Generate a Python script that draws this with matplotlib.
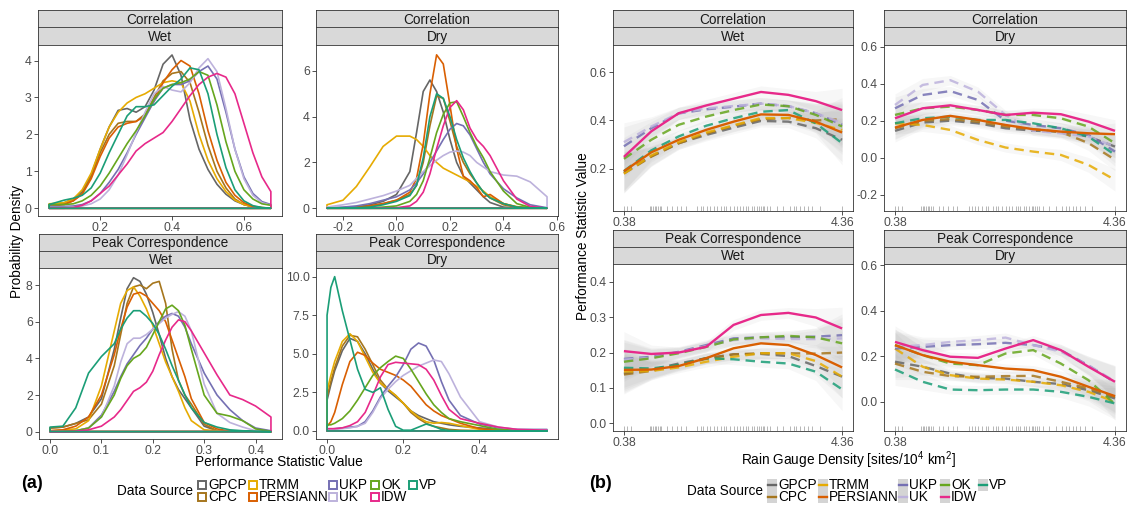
import numpy as np
import matplotlib
matplotlib.use("Agg")
import matplotlib.pyplot as plt
from matplotlib.patches import Rectangle
from matplotlib.lines import Line2D

plt.rcParams['font.family'] = ['Liberation Sans', 'DejaVu Sans']
plt.rcParams['mathtext.fontset'] = 'custom'
plt.rcParams['mathtext.rm'] = 'Liberation Sans'
plt.rcParams['mathtext.it'] = 'Liberation Sans:italic'

# ---------------- data ----------------
SOURCES = ["GPCP", "CPC", "TRMM", "PERSIANN", "UKP", "UK", "OK", "IDW", "VP"]
COLORS = ["#666666", "#A6761D", "#E6AB02", "#D95F02", "#7570B3", "#BDB2DC",
          "#66A61E", "#E7298A", "#1B9E77"]
SOLID = ["PERSIANN", "IDW"]

# (a) density curves
COR_WET_X = [0.058, 0.1, 0.125, 0.15, 0.175, 0.2, 0.225, 0.25, 0.275, 0.3, 0.325, 0.35, 0.375,
             0.4, 0.425, 0.45, 0.475, 0.5, 0.525, 0.55, 0.575, 0.6, 0.625, 0.65, 0.675]
COR_WET = {
    "GPCP": [0.08, 0.15, 0.25, 0.45, 0.9, 1.6, 2.2, 2.65, 2.7, 2.6, 2.75, 3.2, 3.9, 4.15, 3.6, 2.4, 1.6, 1.05, 0.65, 0.38, 0.2, 0.1, 0.04, 0.01, 0.0],
    "CPC": [0.1, 0.12, 0.2, 0.4, 0.85, 1.5, 2.0, 2.3, 2.35, 2.35, 2.55, 3.0, 3.45, 3.65, 3.7, 3.4, 2.6, 1.7, 1.0, 0.55, 0.25, 0.1, 0.04, 0.01, 0.0],
    "TRMM": [0.12, 0.15, 0.25, 0.5, 0.95, 1.6, 2.2, 2.6, 2.85, 3.0, 3.1, 3.25, 3.4, 3.45, 3.4, 2.9, 2.0, 1.3, 0.8, 0.45, 0.22, 0.1, 0.04, 0.01, 0.0],
    "PERSIANN": [0.05, 0.1, 0.2, 0.38, 0.8, 1.4, 1.9, 2.2, 2.3, 2.35, 2.5, 2.9, 3.4, 3.75, 4.0, 3.85, 3.1, 2.1, 1.3, 0.7, 0.35, 0.15, 0.05, 0.02, 0.0],
    "UKP": [0.05, 0.05, 0.06, 0.1, 0.2, 0.4, 0.7, 1.05, 1.5, 2.0, 2.45, 2.9, 3.25, 3.35, 3.35, 3.45, 3.7, 3.85, 3.5, 2.6, 1.6, 0.85, 0.4, 0.18, 0.1],
    "UK": [0.02, 0.02, 0.03, 0.06, 0.12, 0.25, 0.5, 0.9, 1.45, 2.05, 2.6, 3.1, 3.3, 3.2, 3.15, 3.4, 3.8, 4.05, 3.7, 2.7, 1.6, 0.8, 0.35, 0.15, 0.08],
    "OK": [0.1, 0.1, 0.12, 0.2, 0.35, 0.6, 0.95, 1.35, 1.75, 2.1, 2.5, 2.95, 3.25, 3.35, 3.4, 3.5, 3.7, 3.6, 2.8, 1.8, 1.0, 0.5, 0.25, 0.12, 0.08],
    "IDW": [0.0, 0.0, 0.02, 0.08, 0.2, 0.4, 0.6, 0.9, 1.2, 1.55, 1.75, 1.9, 2.05, 2.35, 2.7, 3.05, 3.35, 3.55, 3.65, 3.55, 3.1, 2.3, 1.5, 0.85, 0.45],
    "VP": [0.1, 0.22, 0.27, 0.35, 0.55, 0.95, 1.5, 2.0, 2.5, 2.75, 2.75, 2.8, 3.05, 3.3, 3.5, 3.8, 3.75, 3.1, 2.0, 1.1, 0.5, 0.2, 0.07, 0.02, 0.0],
}

COR_DRY_X = [-0.26, -0.2, -0.15, -0.1, -0.05, 0.0, 0.05, 0.075, 0.1, 0.125, 0.15, 0.175, 0.2,
             0.225, 0.25, 0.275, 0.3, 0.325, 0.35, 0.4, 0.45, 0.5, 0.563]
COR_DRY = {
    "GPCP": [0.0, 0.02, 0.05, 0.15, 0.3, 0.6, 1.6, 3.3, 5.1, 5.6, 5.1, 4.2, 3.0, 2.0, 1.4, 1.1, 0.8, 0.5, 0.25, 0.05, 0.01, 0.0, 0.0],
    "CPC": [0.0, 0.01, 0.03, 0.1, 0.2, 0.35, 0.6, 1.0, 2.0, 3.6, 4.9, 4.8, 3.8, 2.7, 2.0, 1.5, 1.1, 0.7, 0.45, 0.15, 0.04, 0.01, 0.0],
    "TRMM": [0.15, 0.35, 0.95, 1.8, 2.7, 3.15, 3.15, 3.0, 2.7, 2.3, 2.0, 1.75, 1.6, 1.45, 1.3, 1.15, 0.95, 0.75, 0.5, 0.2, 0.07, 0.03, 0.0],
    "PERSIANN": [0.0, 0.02, 0.05, 0.1, 0.2, 0.35, 0.7, 1.3, 2.8, 5.0, 6.7, 6.3, 4.5, 2.6, 1.4, 1.2, 0.9, 0.5, 0.6, 0.2, 0.05, 0.01, 0.0],
    "UKP": [0.02, 0.05, 0.1, 0.2, 0.35, 0.5, 0.8, 1.1, 1.5, 2.0, 2.5, 3.0, 3.45, 3.7, 3.6, 3.2, 2.6, 2.0, 1.5, 0.85, 0.45, 0.15, 0.02],
    "UK": [0.05, 0.15, 0.25, 0.4, 0.55, 0.75, 1.0, 1.3, 1.6, 1.85, 2.1, 2.3, 2.45, 2.5, 2.45, 2.3, 2.0, 1.8, 1.6, 1.45, 1.4, 1.15, 0.5],
    "OK": [0.0, 0.0, 0.01, 0.02, 0.05, 0.1, 0.3, 0.6, 1.2, 2.2, 3.3, 4.1, 4.6, 4.65, 4.0, 3.3, 2.7, 2.2, 1.6, 0.75, 0.2, 0.04, 0.0],
    "IDW": [0.0, 0.0, 0.0, 0.0, 0.01, 0.02, 0.1, 0.3, 0.7, 1.5, 2.6, 3.6, 4.4, 4.7, 4.3, 3.5, 3.0, 2.7, 2.3, 1.2, 0.4, 0.08, 0.0],
    "VP": [0.0, 0.01, 0.02, 0.05, 0.15, 0.3, 0.55, 1.0, 2.2, 4.0, 5.0, 4.8, 4.0, 3.0, 2.2, 1.6, 1.1, 0.7, 0.45, 0.2, 0.05, 0.01, 0.0],
}

PK_WET_X = [0.0, 0.025, 0.05, 0.075, 0.1, 0.125, 0.1375, 0.15, 0.1625, 0.175, 0.1875, 0.2,
            0.2125, 0.225, 0.2375, 0.25, 0.2625, 0.275, 0.3, 0.325, 0.35, 0.375, 0.4, 0.43]
PK_WET = {
    "GPCP": [0.2, 0.25, 0.45, 0.8, 1.8, 4.5, 6.2, 7.8, 8.4, 8.2, 7.5, 6.5, 5.3, 4.0, 3.0, 2.3, 1.8, 1.3, 0.3, 0.05, 0.01, 0.0, 0.0, 0.0],
    "CPC": [0.2, 0.25, 0.45, 0.65, 1.5, 3.6, 5.3, 7.0, 7.9, 8.0, 7.8, 8.1, 8.2, 7.0, 4.5, 2.8, 2.0, 1.5, 0.4, 0.05, 0.0, 0.0, 0.0, 0.0],
    "TRMM": [0.05, 0.1, 0.15, 0.6, 2.5, 5.5, 7.0, 7.7, 7.9, 7.4, 6.7, 5.8, 4.8, 3.8, 3.0, 2.2, 1.3, 0.6, 0.1, 0.05, 0.01, 0.0, 0.0, 0.0],
    "PERSIANN": [0.05, 0.1, 0.3, 0.8, 2.0, 4.2, 5.6, 6.8, 7.5, 7.6, 7.4, 7.0, 6.6, 6.0, 5.0, 4.0, 3.0, 1.8, 0.5, 0.15, 0.03, 0.0, 0.0, 0.0],
    "UKP": [0.0, 0.01, 0.05, 0.2, 0.9, 2.2, 3.0, 3.7, 4.2, 4.7, 5.1, 5.6, 6.0, 6.3, 6.45, 6.3, 5.7, 4.8, 3.2, 2.0, 1.2, 0.6, 0.2, 0.05],
    "UK": [0.0, 0.01, 0.05, 0.2, 0.8, 2.5, 3.8, 4.8, 5.1, 5.1, 5.3, 5.6, 5.9, 6.2, 6.4, 6.55, 6.3, 5.5, 2.6, 1.0, 0.5, 0.25, 0.05, 0.0],
    "OK": [0.0, 0.02, 0.05, 0.2, 0.8, 2.0, 2.9, 3.6, 4.0, 4.2, 4.6, 5.3, 6.0, 6.7, 6.9, 6.6, 5.8, 4.5, 2.0, 1.0, 0.85, 0.6, 0.15, 0.02],
    "IDW": [0.0, 0.0, 0.02, 0.1, 0.3, 0.8, 1.2, 1.7, 2.2, 2.4, 2.7, 3.3, 4.2, 5.0, 5.7, 6.1, 6.0, 5.5, 4.3, 3.1, 2.0, 1.75, 1.4, 0.8],
    "VP": [0.25, 0.3, 1.3, 3.2, 4.1, 4.8, 5.6, 6.2, 6.6, 6.6, 6.3, 5.9, 5.3, 4.5, 3.6, 2.8, 2.0, 1.3, 0.5, 0.25, 0.1, 0.05, 0.02, 0.0],
}

PK_DRY_X = [0.0, 0.01, 0.02, 0.04, 0.06, 0.08, 0.1, 0.12, 0.14, 0.16, 0.18, 0.2, 0.22, 0.24,
            0.26, 0.28, 0.3, 0.32, 0.35, 0.4, 0.45, 0.5, 0.577]
PK_DRY = {
    "GPCP": [2.0, 3.0, 3.9, 5.2, 6.0, 5.8, 5.0, 4.0, 3.1, 2.6, 2.2, 1.8, 1.3, 1.0, 0.8, 0.6, 0.5, 0.4, 0.3, 0.2, 0.1, 0.05, 0.05],
    "CPC": [2.2, 3.2, 4.1, 5.5, 6.2, 6.1, 5.3, 4.3, 3.3, 2.7, 2.3, 1.8, 1.2, 0.8, 0.5, 0.3, 0.2, 0.1, 0.05, 0.02, 0.0, 0.0, 0.0],
    "TRMM": [2.6, 3.6, 4.5, 5.8, 6.3, 5.8, 4.8, 3.8, 3.1, 2.7, 2.3, 1.8, 1.3, 0.9, 0.6, 0.5, 0.55, 0.5, 0.35, 0.1, 0.03, 0.0, 0.0],
    "PERSIANN": [0.3, 0.6, 1.2, 3.0, 4.5, 5.1, 4.9, 4.4, 4.0, 3.8, 3.6, 3.3, 2.9, 2.3, 1.7, 1.3, 1.0, 0.8, 0.5, 0.15, 0.03, 0.0, 0.0],
    "UKP": [0.1, 0.12, 0.15, 0.2, 0.25, 0.3, 0.6, 1.3, 2.2, 2.9, 3.5, 4.3, 5.3, 5.7, 5.5, 4.6, 3.2, 2.0, 1.0, 0.45, 0.2, 0.1, 0.1],
    "UK": [0.1, 0.1, 0.1, 0.15, 0.2, 0.3, 0.5, 1.2, 2.1, 2.7, 3.2, 3.6, 3.9, 4.2, 4.4, 4.6, 4.5, 3.7, 2.2, 0.6, 0.25, 0.1, 0.05],
    "OK": [0.4, 0.4, 0.5, 0.8, 1.3, 2.0, 2.8, 3.6, 4.1, 4.5, 4.85, 4.7, 4.0, 3.2, 2.4, 1.7, 1.2, 0.8, 0.6, 0.35, 0.1, 0.02, 0.0],
    "IDW": [0.15, 0.15, 0.15, 0.2, 0.35, 0.6, 1.2, 2.3, 3.5, 4.3, 4.45, 4.4, 4.35, 4.3, 4.0, 3.3, 2.3, 1.4, 0.8, 0.5, 0.25, 0.1, 0.05],
    "VP": [7.5, 9.3, 10.0, 7.8, 5.9, 4.0, 2.7, 2.5, 2.8, 1.4, 0.3, 0.05, 0.05, 0.25, 0.45, 0.3, 0.1, 0.03, 0.0, 0.0, 0.0, 0.0, 0.0],
}

# (b) smoothed performance vs rain gauge density
GAUGE_X = [0.38, 0.88, 1.38, 1.88, 2.38, 2.88, 3.38, 3.88, 4.36]
SM_COR_WET = {
    "GPCP": [0.184, 0.252, 0.306, 0.34, 0.37, 0.398, 0.395, 0.368, 0.32],
    "CPC": [0.18, 0.25, 0.305, 0.345, 0.378, 0.405, 0.41, 0.40, 0.405],
    "TRMM": [0.18, 0.255, 0.31, 0.35, 0.38, 0.41, 0.41, 0.39, 0.36],
    "PERSIANN": [0.19, 0.268, 0.32, 0.361, 0.395, 0.425, 0.423, 0.395, 0.35],
    "UKP": [0.293, 0.368, 0.429, 0.446, 0.457, 0.47, 0.459, 0.43, 0.382],
    "UK": [0.31, 0.375, 0.43, 0.45, 0.46, 0.47, 0.46, 0.43, 0.39],
    "OK": [0.241, 0.32, 0.382, 0.416, 0.443, 0.466, 0.459, 0.423, 0.375],
    "IDW": [0.249, 0.355, 0.43, 0.462, 0.49, 0.518, 0.506, 0.48, 0.443],
    "VP": [0.19, 0.276, 0.334, 0.378, 0.409, 0.436, 0.443, 0.388, 0.306],
}
SE_COR_WET = [0.08, 0.04, 0.025, 0.025, 0.025, 0.025, 0.025, 0.04, 0.09]

SM_COR_DRY = {
    "GPCP": [0.146, 0.191, 0.201, 0.187, 0.16, 0.147, 0.142, 0.115, 0.061],
    "CPC": [0.16, 0.2, 0.21, 0.195, 0.17, 0.155, 0.14, 0.08, -0.01],
    "TRMM": [0.187, 0.178, 0.151, 0.097, 0.056, 0.034, 0.016, -0.038, -0.119],
    "PERSIANN": [0.164, 0.205, 0.227, 0.205, 0.178, 0.155, 0.142, 0.133, 0.128],
    "UKP": [0.268, 0.34, 0.361, 0.313, 0.201, 0.178, 0.16, 0.124, 0.034],
    "UK": [0.286, 0.394, 0.42, 0.358, 0.232, 0.146, 0.133, 0.115, 0.061],
    "OK": [0.232, 0.268, 0.277, 0.259, 0.232, 0.232, 0.214, 0.169, 0.079],
    "IDW": [0.214, 0.268, 0.284, 0.259, 0.232, 0.244, 0.236, 0.196, 0.146],
    "VP": [0.187, 0.214, 0.223, 0.205, 0.205, 0.187, 0.16, 0.115, 0.016],
}
SE_COR_DRY = [0.06, 0.035, 0.025, 0.025, 0.025, 0.025, 0.03, 0.04, 0.06]

SM_PK_WET = {
    "GPCP": [0.141, 0.151, 0.169, 0.184, 0.195, 0.196, 0.19, 0.162, 0.132],
    "CPC": [0.138, 0.148, 0.165, 0.182, 0.195, 0.198, 0.198, 0.197, 0.2],
    "TRMM": [0.146, 0.148, 0.158, 0.174, 0.188, 0.198, 0.198, 0.176, 0.132],
    "PERSIANN": [0.151, 0.152, 0.162, 0.184, 0.212, 0.226, 0.221, 0.193, 0.158],
    "UKP": [0.182, 0.188, 0.202, 0.221, 0.24, 0.243, 0.243, 0.245, 0.249],
    "UK": [0.18, 0.185, 0.2, 0.218, 0.235, 0.24, 0.238, 0.238, 0.24],
    "OK": [0.174, 0.184, 0.198, 0.216, 0.237, 0.243, 0.247, 0.243, 0.226],
    "IDW": [0.204, 0.196, 0.2, 0.216, 0.278, 0.306, 0.312, 0.299, 0.268],
    "VP": [0.157, 0.155, 0.165, 0.184, 0.181, 0.174, 0.169, 0.146, 0.096],
}
SE_PK_WET = [0.055, 0.025, 0.015, 0.015, 0.015, 0.015, 0.015, 0.025, 0.06]

SM_PK_DRY = {
    "GPCP": [0.176, 0.154, 0.124, 0.105, 0.102, 0.088, 0.078, 0.051, 0.015],
    "CPC": [0.168, 0.132, 0.113, 0.11, 0.113, 0.114, 0.088, 0.059, 0.022],
    "TRMM": [0.234, 0.154, 0.117, 0.102, 0.098, 0.088, 0.073, 0.044, 0.0],
    "PERSIANN": [0.249, 0.205, 0.176, 0.161, 0.146, 0.139, 0.11, 0.066, 0.025],
    "UKP": [0.234, 0.241, 0.249, 0.253, 0.259, 0.249, 0.227, 0.16, 0.085],
    "UK": [0.241, 0.249, 0.263, 0.271, 0.282, 0.249, 0.22, 0.16, 0.09],
    "OK": [0.249, 0.205, 0.168, 0.161, 0.212, 0.227, 0.168, 0.095, -0.01],
    "IDW": [0.263, 0.227, 0.198, 0.193, 0.234, 0.271, 0.227, 0.154, 0.088],
    "VP": [0.142, 0.088, 0.054, 0.051, 0.054, 0.054, 0.044, 0.022, -0.007],
}
SE_PK_DRY = [0.07, 0.035, 0.02, 0.02, 0.02, 0.02, 0.025, 0.04, 0.07]

RUG = [0.38, 0.44, 0.51, 0.85, 0.88, 0.91, 0.94, 0.97, 1.00, 1.03, 1.06, 1.17, 1.25, 1.34,
       1.43, 1.51, 1.72, 1.78, 1.83, 1.89, 1.95, 2.02, 2.07, 2.16, 2.21, 2.25, 2.32, 2.39,
       2.44, 2.50, 2.56, 2.60, 2.65, 2.71, 2.75, 2.80, 2.85, 2.88, 2.91, 2.94, 2.99, 3.05,
       3.17, 3.29, 3.41, 3.48, 3.52, 3.60, 3.66, 3.73, 3.82, 3.95, 4.36]

# ---------------- layout ----------------
W, H = 1130, 505
fig = plt.figure(figsize=(W / 100, H / 100), dpi=100)
fig.patch.set_facecolor("white")

EDGE = "#333333"
TICKC = "#4D4D4D"
STRIPC = "#D9D9D9"
FS_TICK = 8.8
FS_STRIP = 9.8
FS_TITLE = 9.8


def px_axes(x0, y0, x1, y1):
    return fig.add_axes([x0 / W, 1 - y1 / H, (x1 - x0) / W, (y1 - y0) / H])


def strip(x0, x1, ytop, ymid, ybot, t1, t2):
    for (a, b, t) in [(ytop, ymid, t1), (ymid, ybot, t2)]:
        s = px_axes(x0, a, x1, b)
        s.set_facecolor(STRIPC)
        s.set_xticks([]); s.set_yticks([])
        for sp in s.spines.values():
            sp.set_color(EDGE); sp.set_linewidth(0.6)
        s.text(0.5, 0.45, t, ha="center", va="center", fontsize=FS_STRIP,
               color="#1A1A1A", transform=s.transAxes)


def style(ax):
    for sp in ax.spines.values():
        sp.set_color(EDGE); sp.set_linewidth(0.6)
    ax.tick_params(length=3, width=0.6, color=EDGE, labelcolor=TICKC,
                   labelsize=FS_TICK, pad=1.5)


def density_panel(rect, strips, xs, data, xlim, ylim, xt, xtl, yt, ytl):
    x0, y0, x1, y1 = rect
    strip(x0, x1, strips[0], strips[1], y0, strips[2], strips[3])
    ax = px_axes(x0, y0, x1, y1)
    xs = np.asarray(xs, float)
    for name, c in zip(SOURCES, COLORS):
        ys = np.asarray(data[name], float)
        px = np.concatenate([[xs[0]], xs, [xs[-1]]])
        py = np.concatenate([[0.0], ys, [0.0]])
        ax.fill(px, py, fill=False, edgecolor=c, lw=1.2, joinstyle="round")
    ax.set_xlim(*xlim); ax.set_ylim(*ylim)
    ax.set_xticks(xt); ax.set_xticklabels(xtl)
    ax.set_yticks(yt); ax.set_yticklabels(ytl)
    style(ax)
    return ax


def smooth_panel(rect, strips, data, se, ylim, yt, ytl):
    x0, y0, x1, y1 = rect
    strip(x0, x1, strips[0], strips[1], y0, strips[2], strips[3])
    ax = px_axes(x0, y0, x1, y1)
    gx = np.asarray(GAUGE_X, float)
    se = np.asarray(se, float)
    for name in SOURCES:
        ys = np.asarray(data[name], float)
        ax.fill_between(gx, ys - se, ys + se, color="#999999", alpha=0.08, lw=0)
    for name, c in zip(SOURCES, COLORS):
        ys = np.asarray(data[name], float)
        if name in SOLID:
            ax.plot(gx, ys, color=c, lw=1.7, solid_capstyle="butt", zorder=4)
        else:
            ax.plot(gx, ys, color=c, lw=1.7, ls=(0, (4, 2.5)), alpha=0.85, zorder=3)
    ax.vlines(RUG, 0, 0.03, transform=ax.get_xaxis_transform(), color="#808080",
              lw=0.5, alpha=0.8)
    ax.set_xlim(0.38 - 0.199, 4.36 + 0.199)
    ax.set_ylim(*ylim)
    ax.set_xticks([0.38, 4.36]); ax.set_xticklabels(["0.38", "4.36"])
    ax.set_yticks(yt); ax.set_yticklabels(ytl)
    style(ax)
    return ax


# (a) panels
density_panel((38, 45, 282, 216), (10, 27.5, "Correlation", "Wet"), COR_WET_X, COR_WET,
              (0.027, 0.706), (-0.21, 4.42), [0.2, 0.4, 0.6], ["0.2", "0.4", "0.6"],
              [0, 1, 2, 3, 4], ["0", "1", "2", "3", "4"])
density_panel((316, 45, 558, 216), (10, 27.5, "Correlation", "Dry"), COR_DRY_X, COR_DRY,
              (-0.301, 0.604), (-0.34, 7.13), [-0.2, 0.0, 0.2, 0.4, 0.6],
              ["-0.2", "0.0", "0.2", "0.4", "0.6"], [0, 2, 4, 6], ["0", "2", "4", "6"])
density_panel((39, 268, 282, 439), (234, 251, "Peak Correspondence", "Wet"), PK_WET_X, PK_WET,
              (-0.0215, 0.4515), (-0.4, 8.93), [0.0, 0.1, 0.2, 0.3, 0.4],
              ["0.0", "0.1", "0.2", "0.3", "0.4"], [0, 2, 4, 6, 8], ["0", "2", "4", "6", "8"])
density_panel((316, 268, 558, 439), (234, 251, "Peak Correspondence", "Dry"), PK_DRY_X, PK_DRY,
              (-0.029, 0.606), (-0.52, 10.56), [0.0, 0.2, 0.4], ["0.0", "0.2", "0.4"],
              [0, 2.5, 5, 7.5, 10], ["0.0", "2.5", "5.0", "7.5", "10.0"])

# (b) panels
smooth_panel((613, 45, 853, 211), (10, 27.5, "Correlation", "Wet"), SM_COR_WET, SE_COR_WET,
             (0.025, 0.7125), [0.2, 0.4, 0.6], ["0.2", "0.4", "0.6"])
smooth_panel((884, 45, 1126, 211), (10, 27.5, "Correlation", "Dry"), SM_COR_DRY, SE_COR_DRY,
             (-0.287, 0.61), [-0.2, 0.0, 0.2, 0.4, 0.6], ["-0.2", "0.0", "0.2", "0.4", "0.6"])
smooth_panel((613, 264, 853, 431), (230, 247, "Peak Correspondence", "Wet"), SM_PK_WET, SE_PK_WET,
             (-0.0215, 0.45), [0.0, 0.1, 0.2, 0.3, 0.4], ["0.0", "0.1", "0.2", "0.3", "0.4"])
smooth_panel((884, 264, 1126, 431), (230, 247, "Peak Correspondence", "Dry"), SM_PK_DRY, SE_PK_DRY,
             (-0.128, 0.605), [0.0, 0.2, 0.4, 0.6], ["0.0", "0.2", "0.4", "0.6"])


# ---------------- titles ----------------
def ftext(x, y, s, **kw):
    fig.text(x / W, 1 - y / H, s, **kw)


ftext(17, 242, "Probability Density", rotation=90, ha="center", va="center", fontsize=FS_TITLE)
ftext(279, 462, "Performance Statistic Value", ha="center", va="center", fontsize=FS_TITLE)
ftext(583, 236, "Performance Statistic Value", rotation=90, ha="center", va="center",
      fontsize=FS_TITLE)
ftext(848, 460, "Rain Gauge Density [sites/10$^{4}$ km$^{2}$]", ha="center", va="center",
      fontsize=FS_TITLE)
ftext(32, 484, "(a)", ha="center", va="center", fontsize=13, fontweight="bold")
ftext(600, 484, "(b)", ha="center", va="center", fontsize=13, fontweight="bold")


# ---------------- legends ----------------
COL_X = [197, 248, 328, 370, 408]
ROW_Y = [485, 497]


def legend(dx, kind):
    ftext(193 + dx, 491, "Data Source", ha="right", va="center", fontsize=FS_TITLE)
    for i, (name, c) in enumerate(zip(SOURCES, COLORS)):
        col, row = i // 2, i % 2
        kx = COL_X[col] + dx
        ky = ROW_Y[row]
        if kind == "a":
            r = Rectangle(((kx + 1) / W, 1 - (ky + 4) / H), 8 / W, 8 / H,
                          transform=fig.transFigure, facecolor="white", edgecolor=c, lw=1.4)
            fig.add_artist(r)
        else:
            r = Rectangle((kx / W, 1 - (ky + 6) / H), 10 / W, 12 / H,
                          transform=fig.transFigure, facecolor="#D4D4D4", edgecolor="none")
            fig.add_artist(r)
            ln = Line2D([(kx + 1) / W, (kx + 9) / W], [1 - ky / H, 1 - ky / H],
                        transform=fig.transFigure, color=c, lw=1.7)
            fig.add_artist(ln)
        ftext(kx + 11, ky, name, ha="left", va="center", fontsize=FS_TITLE)


legend(0, "a")
legend(570, "b")

fig.savefig("out.png", dpi=100, facecolor="white")
